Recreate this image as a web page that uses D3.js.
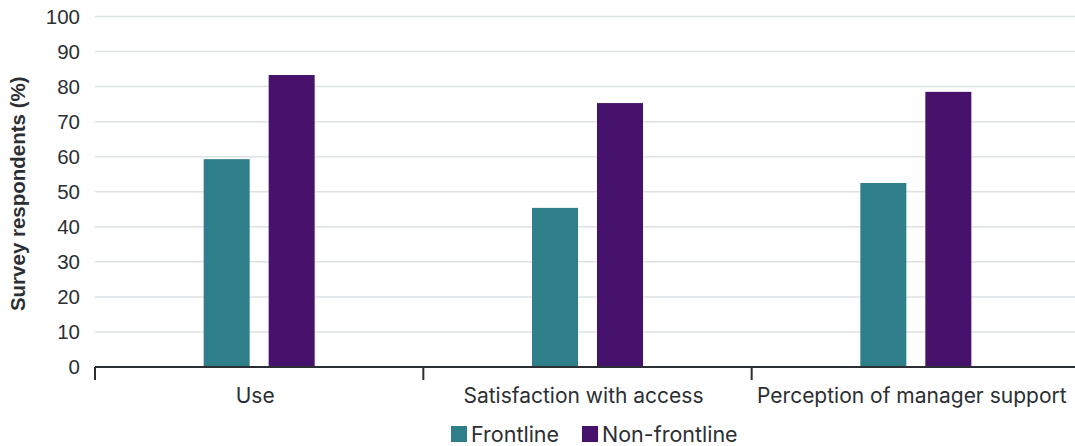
<!DOCTYPE html>
<html><head><meta charset="utf-8">
<script src="https://cdn.jsdelivr.net/npm/d3@7"></script>
<style>body{margin:0;background:#fff}svg{display:block}</style>
</head><body>
<script>
const categories = ["Use", "Satisfaction with access", "Perception of manager support"];
const seriesNames = ["Frontline", "Non-frontline"];
const frontline = [59.3, 45.4, 52.5];
const nonFrontline = [83.3, 75.3, 78.5];
const yTicks = [0,10,20,30,40,50,60,70,80,90,100];
const colors = ["#2e7f8a", "#46126b"];

const W = 1075, H = 446;
const svg = d3.select("body").append("svg").attr("width", W).attr("height", H);
const x = d3.scaleBand().domain(categories).range([95, 1080]).paddingInner(0).paddingOuter(0);
const y = d3.scaleLinear().domain([0,100]).range([367, 16.5]);
const xs = d3.scaleBand().domain(seriesNames).range([-55.5, 55.5]).paddingInner(0.2923).paddingOuter(0);

// grid
svg.append("g").selectAll("line").data(yTicks.filter(d=>d>0)).join("line")
  .attr("x1", 95).attr("x2", W).attr("y1", d=>y(d)).attr("y2", d=>y(d))
  .attr("stroke", "#dde2e4").attr("stroke-width", 1.5);

// y tick labels
svg.append("g").selectAll("text").data(yTicks).join("text")
  .attr("x", 80).attr("y", d=>y(d)).attr("dy", "0.36em").attr("text-anchor", "end")
  .attr("font-family", "Liberation Sans, Arial, sans-serif").attr("font-size", 20.5).attr("fill", "#2b2f33")
  .text(d=>d);

// y title
svg.append("text").attr("transform", `translate(25,${y(50)+2}) rotate(-90)`)
  .attr("text-anchor", "middle").attr("font-family", "Liberation Sans, Arial, sans-serif")
  .attr("font-weight", "bold").attr("font-size", 20.5).attr("fill", "#2b2f33")
  .text("Survey respondents (%)");

// bars
const data = [frontline, nonFrontline];
data.forEach((vals, si) => {
  svg.append("g").selectAll("rect").data(vals).join("rect")
    .attr("x", (d,i)=> x(categories[i]) + x.bandwidth()/2 + xs(seriesNames[si]))
    .attr("width", xs.bandwidth())
    .attr("y", d=>y(d)).attr("height", d=>y(0)-y(d))
    .attr("fill", colors[si]);
});

// x axis
const xAxis = svg.append("g");
xAxis.append("line").attr("x1", 95).attr("x2", W).attr("y1", y(0)).attr("y2", y(0))
  .attr("stroke", "#2b2f33").attr("stroke-width", 2);
xAxis.selectAll("line.tick").data(categories).join("line").attr("class","tick")
  .attr("x1", d=>x(d)).attr("x2", d=>x(d)).attr("y1", y(0)).attr("y2", y(0)+13)
  .attr("stroke", "#2b2f33").attr("stroke-width", 2);
xAxis.selectAll("text").data(categories).join("text")
  .attr("x", d=>x(d)+x.bandwidth()/2-4).attr("y", 403).attr("text-anchor", "middle")
  .attr("font-family", "Inter, sans-serif").attr("font-size", 21).attr("fill", "#2b2f33")
  .text(d=>d);

// legend
const leg = svg.append("g");
const legX = [451, 582];
seriesNames.forEach((s, i) => {
  leg.append("rect").attr("x", legX[i]).attr("y", 426).attr("width", 16).attr("height", 16).attr("fill", colors[i]);
  leg.append("text").attr("x", legX[i]+20).attr("y", 441.5).attr("font-family", "Inter, sans-serif")
    .attr("font-size", 21.5).attr("fill", "#2b2f33").text(s);
});
</script>
</body></html>
